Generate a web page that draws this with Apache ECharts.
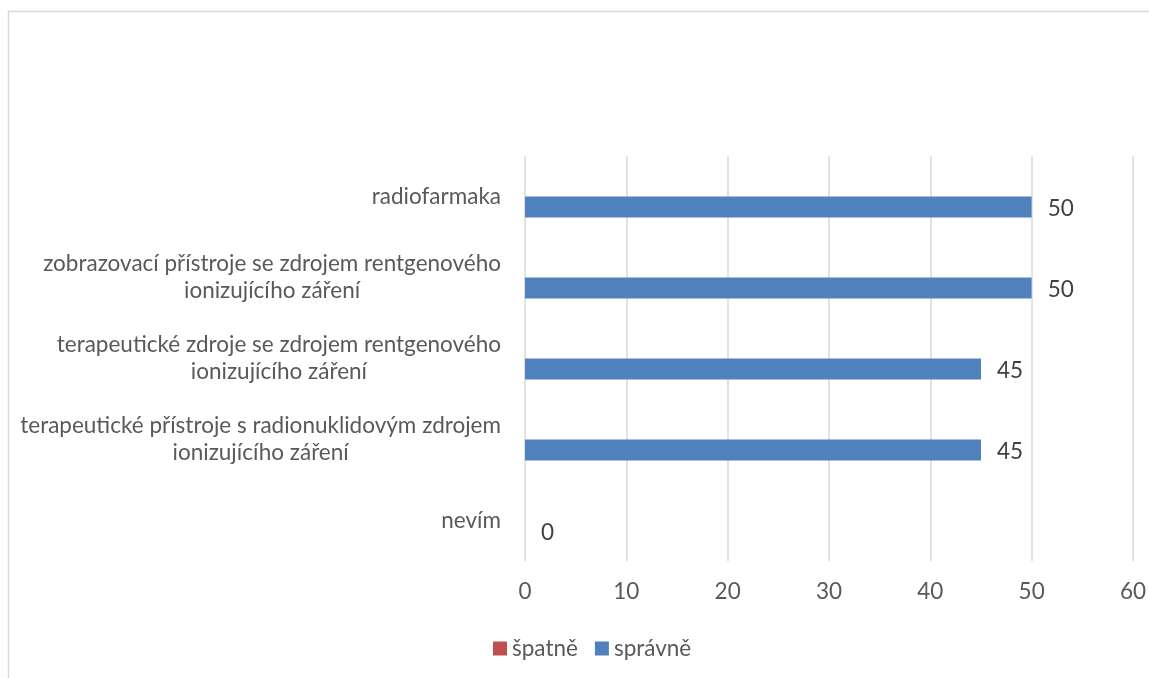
<!DOCTYPE html>
<html>
<head>
<meta charset="utf-8">
<script src="https://cdn.jsdelivr.net/npm/echarts@6/dist/echarts.min.js"></script>
<style>
  html, body { margin: 0; padding: 0; background: #ffffff; }
  #chart { width: 1149px; height: 678px; }
</style>
</head>
<body>
<div id="chart"></div>
<script>
// Categories, top to bottom
const categories = [
  'radiofarmaka',
  'zobrazovací přístroje se zdrojem rentgenového\nionizujícího záření',
  'terapeutické zdroje se zdrojem rentgenového\nionizujícího záření',
  'terapeutické přístroje s radionuklidovým zdrojem\nionizujícího záření',
  'nevím'
];
const seriesNames = ['špatně', 'správně'];
const spatneValues = [0, 0, 0, 0, 0];
const spravneValues = [50, 50, 45, 45, 0];
const xTicks = [0, 10, 20, 30, 40, 50, 60];

const FONT = 'Lato, "Open Sans", sans-serif';
const FS = 22.5;
const chart = echarts.init(document.getElementById('chart'), null, { renderer: 'canvas' });

chart.setOption({
  animation: false,
  backgroundColor: '#ffffff',
  graphic: [{
    type: 'rect',
    shape: { x: 8.5, y: 11.5, width: 1300, height: 800 },
    style: { fill: 'none', stroke: '#d9d9d9', lineWidth: 1.5 },
    silent: true
  }],
  legend: {
    data: seriesNames,
    left: 488,
    top: 632,
    icon: 'rect',
    itemWidth: 14,
    itemHeight: 14,
    itemGap: 17,
    textStyle: { fontFamily: FONT, fontSize: FS, color: '#595959', padding: [0, 0, 0, 0] }
  },
  grid: { left: 525, right: 16, top: 156, bottom: 117, containLabel: false },
  xAxis: {
    type: 'value',
    min: xTicks[0],
    max: xTicks[xTicks.length - 1],
    interval: xTicks[1] - xTicks[0],
    axisLine: { show: false },
    axisTick: { show: false },
    splitLine: { show: true, lineStyle: { color: '#d9d9d9', width: 1.5 } },
    axisLabel: { fontFamily: FONT, fontSize: FS, color: '#595959', margin: 19 }
  },
  yAxis: {
    type: 'category',
    data: categories,
    inverse: true,
    axisLine: { show: false },
    axisTick: { show: false },
    splitLine: { show: false },
    axisLabel: {
      align: 'right',
      margin: 24,
      lineHeight: 27,
      fontFamily: FONT,
      fontSize: FS,
      color: '#595959',
      formatter: function (v) {
        return v.split('\n').map(function (s) { return '{c|' + s + '}'; }).join('\n');
      },
      rich: {
        c: { align: 'center', fontFamily: FONT, fontSize: FS, color: '#595959', lineHeight: 27 }
      }
    }
  },
  series: [
    {
      name: seriesNames[0],
      type: 'bar',
      data: spatneValues,
      barWidth: 21,
      barGap: '0%',
      itemStyle: { color: '#c0504d' },
      label: { show: false }
    },
    {
      name: seriesNames[1],
      type: 'bar',
      data: spravneValues,
      barWidth: 21,
      barGap: '0%',
      itemStyle: { color: '#4f81bd' },
      label: {
        show: true,
        position: 'right',
        distance: 16,
        offset: [0, 2],
        fontFamily: FONT,
        fontSize: FS,
        color: '#404040'
      }
    }
  ]
});
</script>
</body>
</html>
